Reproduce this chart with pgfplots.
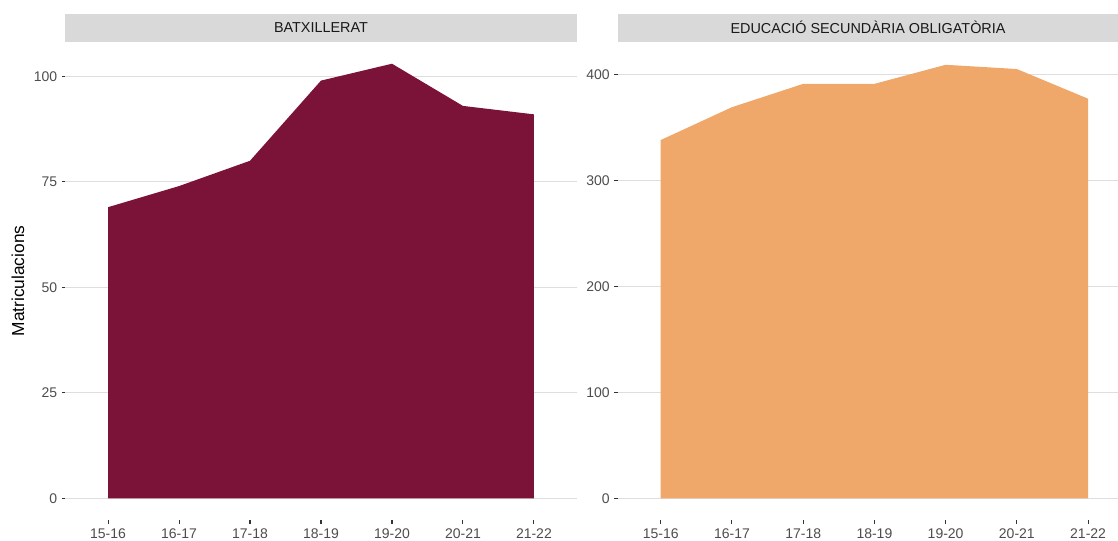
\documentclass[border=0pt]{standalone}
\usepackage{fontspec}
\setmainfont{Liberation Sans}
\usepackage{pgfplots}
\pgfplotsset{compat=1.18}
\usepackage{pgfplotstable}

\definecolor{batx}{HTML}{7B1237}
\definecolor{eso}{HTML}{F0A76A}
\definecolor{stripbg}{HTML}{D9D9D9}
\definecolor{gridc}{HTML}{DEDEDE}
\definecolor{tickc}{HTML}{333333}
\definecolor{labc}{HTML}{4D4D4D}

% curs, matriculacions
\pgfplotstableread{
x y
1 69
2 74
3 80
4 99
5 103
6 93
7 91
}\batxillerat
\pgfplotstableread{
x y
1 338
2 369
3 391
4 391
5 409
6 405
7 377
}\esotable

\pgfplotsset{
  facet/.style={
    scale only axis,
    anchor=south west,
    height=358.5pt,
    axis line style={draw=none},
    ymajorgrids=true,
    grid style={gridc, line width=0.8pt},
    xtick={1,...,7},
    xticklabels={15-16,16-17,17-18,18-19,19-20,20-21,21-22},
    xmin=0.4,
    tick align=outside,
    xtick pos=lower, ytick pos=left,
    major tick length=2.75pt,
    tick style={tickc, line width=0.8pt},
    /pgf/number format/assume math mode=true,
    ticklabel style={font=\fontsize{10.5}{12}\selectfont, text=labc},
    clip=false,
  },
}

\newcommand{\strip}[1]{%
  \fill[stripbg] (rel axis cs:0,1) rectangle ([yshift=21.3pt]rel axis cs:1,1);
  \node[font=\fontsize{10.8}{12}\selectfont, text=black!90] at ([yshift=10.65pt]rel axis cs:0.5,1) {#1};
}

\begin{document}
\begin{tikzpicture}
\begin{axis}[facet,
  at={(49.125pt,15pt)},
  width=383.25pt,
  xmax=7.6,
  ymin=-5.15, ymax=108.15,
  ytick={0,25,50,75,100},
  ylabel={Matriculacions},
  every axis y label/.style={at={(rel axis cs:0,0.5)}, xshift=-35.6pt, rotate=90, anchor=center, font=\fontsize{13}{15}\selectfont, text=black},
]
\addplot[fill=batx, draw=none] table[x=x, y=y] {\batxillerat} \closedcycle;
\strip{BATXILLERAT}
\end{axis}

\begin{axis}[facet,
  at={(463.5pt,15pt)},
  width=375pt,
  xmax=7.42,
  ymin=-20.5, ymax=430.5,
  ytick={0,100,200,300,400},
]
\addplot[fill=eso, draw=none] table[x=x, y=y] {\esotable} \closedcycle;
\strip{EDUCACIÓ SECUNDÀRIA OBLIGATÒRIA}
\end{axis}
\pgfresetboundingbox
\useasboundingbox (0,0) rectangle (838.5pt,405pt);
\end{tikzpicture}
\end{document}
